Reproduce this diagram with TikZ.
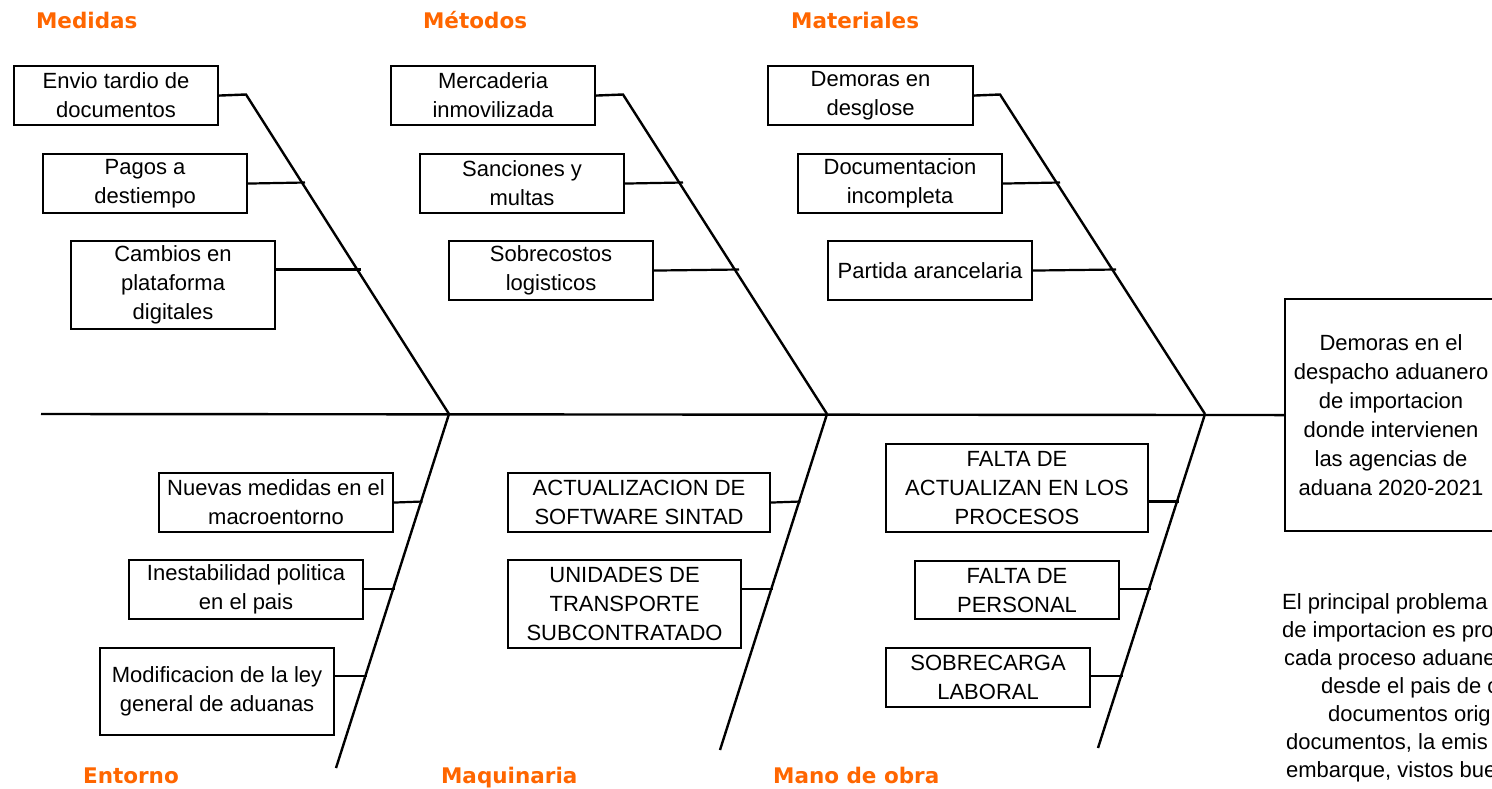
\documentclass[tikz,border=0pt]{standalone}
\usepackage{fontspec}
\setmainfont{Liberation Sans}
\newfontfamily\catfont{DejaVu Sans}
\definecolor{catorange}{RGB}{255,102,0}
\begin{document}
\begin{tikzpicture}[x=1pt,y=-1pt,line width=2.2pt,
  box/.style={draw,line width=2.1pt,anchor=north west,inner sep=0pt,align=center,font=\fontsize{22}{29}\selectfont},
  cat/.style={anchor=base west,inner sep=0pt,text=catorange,font=\catfont\bfseries\fontsize{21.5}{26}\selectfont},
  bone/.style={line width=2.4pt},
  para/.style={anchor=base west,inner sep=0pt,font=\fontsize{22}{28}\selectfont}]
\useasboundingbox (0,0) rectangle (1492,788);
\clip (0,0) rectangle (1492,788);

% category labels
\node[cat] (medidas) at (35,28) {Medidas};
\node[cat] (metodos) at (422,28) {Métodos};
\node[cat] (materiales) at (790,28) {Materiales};
\node[cat] (entorno) at (82,783) {Entorno};
\node[cat] (maquinaria) at (440,783) {Maquinaria};
\node[cat] (manodeobra) at (772,783) {Mano de obra};

% top boxes
\node[box,minimum width=204pt,minimum height=59pt] (envio) at (13,65) {Envio tardio de\\documentos};
\node[box,minimum width=204pt,minimum height=59pt] (pagos) at (42,153) {Pagos a\\destiempo};
\node[box,minimum width=204pt,minimum height=88pt] (cambios) at (70,240) {Cambios en\\plataforma\\digitales};
\node[box,minimum width=204pt,minimum height=59pt] (merc) at (390,65) {Mercaderia\\inmovilizada};
\node[box,minimum width=204pt,minimum height=59pt] (sanc) at (419,153) {Sanciones y\\multas};
\node[box,minimum width=204pt,minimum height=59pt] (sobre) at (448,240) {Sobrecostos\\logisticos};
\node[box,minimum width=205pt,minimum height=59pt] (demoras) at (767,65) {Demoras en\\desglose};
\node[box,minimum width=204pt,minimum height=59pt] (docu) at (797,153) {Documentacion\\incompleta};
\node[box,minimum width=204pt,minimum height=59pt] (partida) at (827,240) {Partida arancelaria};

% bottom boxes
\node[box,minimum width=234pt,minimum height=59pt] (nuevas) at (158,472) {Nuevas medidas en el\\macroentorno};
\node[box,minimum width=234pt,minimum height=59pt] (inest) at (128,559) {Inestabilidad politica\\en el pais};
\node[box,minimum width=234pt,minimum height=87pt] (modif) at (99,647) {Modificacion de la ley\\general de aduanas};
\node[box,minimum width=262pt,minimum height=59pt] (actual) at (507,472) {ACTUALIZACION DE\\SOFTWARE SINTAD};
\node[box,minimum width=233pt,minimum height=88pt] (unid) at (507,559) {UNIDADES DE\\TRANSPORTE\\SUBCONTRATADO};
\node[box,minimum width=262pt,minimum height=88pt] (falta1) at (885,443) {FALTA DE\\ACTUALIZAN EN LOS\\PROCESOS};
\node[box,minimum width=204pt,minimum height=58pt] (falta2) at (914,560) {FALTA DE\\PERSONAL};
\node[box,minimum width=204pt,minimum height=59pt] (sobrec) at (885,647) {SOBRECARGA\\LABORAL};

% effect
\node[box,minimum width=212pt,minimum height=232pt] (effect) at (1284,298) {Demoras en el\\despacho aduanero\\de importacion\\donde intervienen\\las agencias de\\aduana 2020-2021};

% coordinates
\coordinate (SL) at (41,414);
\coordinate (J1) at (449,414);
\coordinate (J2) at (827,414);
\coordinate (J3) at (1205,414);
\coordinate (TA) at (246,94.5);
\coordinate (TB) at (623,94.5);
\coordinate (TC) at (1000,94.5);
\coordinate (BD) at (336,768);
\coordinate (BE) at (720,750);
\coordinate (BF) at (1098,748);
\coordinate (a2) at (305,182.5);
\coordinate (a3) at (361,269.5);
\coordinate (b2) at (683,182.5);
\coordinate (b3) at (739,269.5);
\coordinate (c2) at (1060,182.5);
\coordinate (c3) at (1116,269.5);
\coordinate (d1) at (422.5,501.5);
\coordinate (d2) at (394.5,589);
\coordinate (d3) at (366.5,676);
\coordinate (e1) at (800.5,501.5);
\coordinate (e2) at (772.5,589);
\coordinate (f1) at (1178.5,501.5);
\coordinate (f2) at (1150.5,589);
\coordinate (f3) at (1122.5,676);

% spine
\draw[bone] (SL) -- (effect.west);
% top bones
\draw[bone] (envio.east) -- (TA) -- (J1);
\draw[bone] (merc.east) -- (TB) -- (J2);
\draw[bone] (demoras.east) -- (TC) -- (J3);
% bottom bones
\draw[bone] (J1) -- (BD);
\draw[bone] (J2) -- (BE);
\draw[bone] (J3) -- (BF);
% connectors
\draw (pagos.east) -- (a2);
\draw (cambios.east |- a3) -- (a3);
\draw (sanc.east) -- (b2);
\draw (sobre.east) -- (b3);
\draw (docu.east) -- (c2);
\draw (partida.east) -- (c3);
\draw (nuevas.east) -- (d1);
\draw (inest.east |- d2) -- (d2);
\draw (modif.east |- d3) -- (d3);
\draw (actual.east) -- (e1);
\draw (unid.east |- e2) -- (e2);
\draw (falta1.east |- f1) -- (f1);
\draw (falta2.east |- f2) -- (f2);
\draw (sobrec.east |- f3) -- (f3);

% paragraph (cut by the picture edge, as in the reference)
\node[para] (p1) at (1281,609) {El principal problema d};
\node[para] (p2) at (1281,637) {de importacion es pro};
\node[para] (p3) at (1283,665) {cada proceso aduane};
\node[para] (p4) at (1320,693) {desde el pais de o};
\node[para] (p5) at (1327,721) {documentos orig};
\node[para] (p6) at (1285,749) {documentos, la emis};
\node[para] (p7) at (1285,777) {embarque, vistos bue};
\end{tikzpicture}
\end{document}
